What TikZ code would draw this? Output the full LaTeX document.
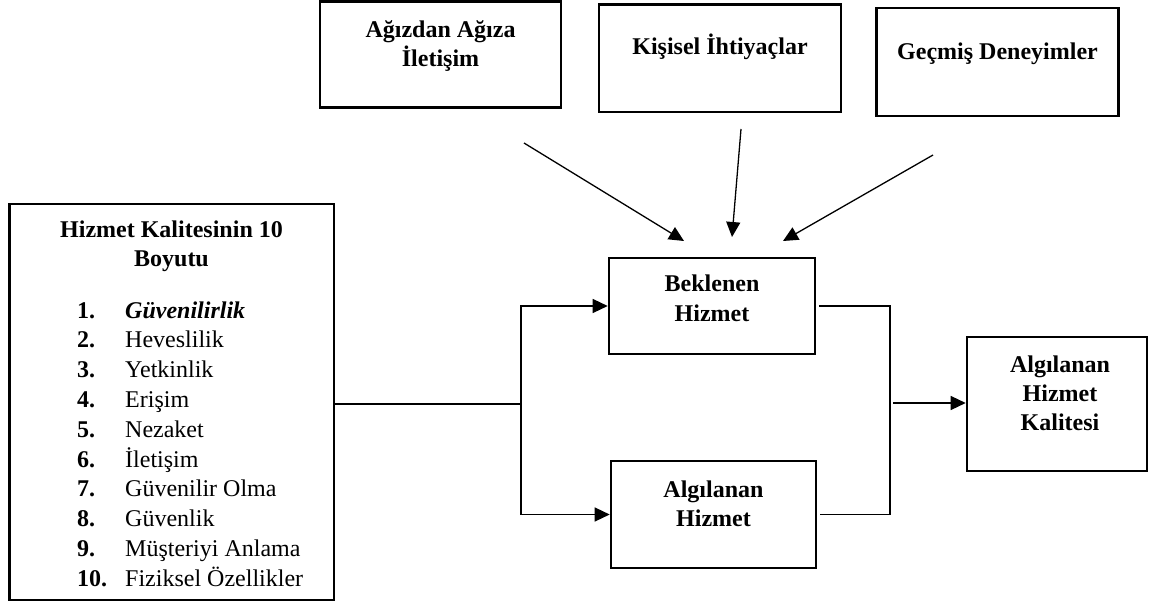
\documentclass[tikz,border=0pt]{standalone}
\usepackage{fontspec}
\setmainfont{Liberation Serif}
\usetikzlibrary{arrows.meta}
\begin{document}
\begin{tikzpicture}[x=1pt,y=-1pt,
  box/.style={draw, line width=2.6pt, rectangle, inner sep=0pt, outer sep=0pt},
  conn/.style={line width=1.3pt},
  arr/.style={-{Triangle[length=15pt,width=14pt]}},
  lbl/.style={font=\fontsize{24}{29}\selectfont\bfseries, inner sep=0pt, anchor=base},
  itemtxt/.style={font=\fontsize{24}{29}\selectfont, inner sep=0pt, anchor=base west},
  itemnum/.style={font=\fontsize{24}{29}\selectfont\bfseries, inner sep=0pt, anchor=base west}]
\useasboundingbox (0,0) rectangle (1150,609);

% top boxes
\node[box, minimum width=241pt, minimum height=106pt] (A) at (440.5,54.5) {};
\node[box, minimum width=242pt, minimum height=107.5pt] (K) at (720,58.25) {};
\node[box, minimum width=242pt, minimum height=108pt] (G) at (997.5,62) {};
\node[lbl] (At1) at (440.5,38) {Ağızdan Ağıza};
\node[lbl] (At2) at (440.5,67) {İletişim};
\node[lbl] (Kt) at (720,55) {Kişisel İhtiyaçlar};
\node[lbl] (Gt) at (997.5,60) {Geçmiş Deneyimler};

% left box
\node[box, minimum width=324.5pt, minimum height=396pt] (L) at (171.75,402) {};
\node[lbl] (Lt1) at (171.5,238) {Hizmet Kalitesinin 10};
\node[lbl] (Lt2) at (171.5,267) {Boyutu};
\foreach \t [count=\i] in {{\bfseries\itshape Güvenilirlik}, {Heveslilik}, {Yetkinlik}, {Erişim}, {Nezaket}, {İletişim}, {Güvenilir Olma}, {Güvenlik}, {Müşteriyi Anlama}, {Fiziksel Özellikler}} {
  \node[itemnum] (n\i) at (77,{318+29.8*(\i-1)}) {\i.};
  \node[itemtxt] (t\i) at (125,{318+29.8*(\i-1)}) {\t};
}

% middle boxes
\node[box, minimum width=206pt, minimum height=96pt] (B) at (712,306) {};
\node[lbl] (Bt1) at (712,292) {Beklenen};
\node[lbl] (Bt2) at (712,321) {Hizmet};
\node[box, minimum width=205pt, minimum height=107pt] (H) at (713.5,514.5) {};
\node[lbl] (Ht1) at (713.5,497) {Algılanan};
\node[lbl] (Ht2) at (713.5,526) {Hizmet};

% right box
\node[box, minimum width=180pt, minimum height=134pt] (Q) at (1057,404) {};
\node[lbl] (Qt1) at (1060,372) {Algılanan};
\node[lbl] (Qt2) at (1060,401) {Hizmet};
\node[lbl] (Qt3) at (1060,430) {Kalitesi};

% top arrows
\coordinate (a1s) at (524,143); \coordinate (a1e) at (684,241);
\coordinate (a2s) at (741,129); \coordinate (a2e) at (732,237);
\coordinate (a3s) at (933,155); \coordinate (a3e) at (783,241);
\draw[conn,arr] (a1s) -- (a1e);
\draw[conn,arr] (a2s) -- (a2e);
\draw[conn,arr] (a3s) -- (a3e);

% left connectors
\coordinate (j) at (521,404);
\draw[conn] (L.east |- j) -- (j);
\draw[conn,arr,shorten >=1.3pt] (j) |- (B.west);
\draw[conn,arr,shorten >=1.3pt] (j) |- (H.west);

% right connectors
\coordinate (r) at (890,403);
\draw[conn] ([xshift=4pt]B.east) -| (r) |- ([xshift=4pt]H.east);
\draw[conn,arr,shorten >=1.3pt] ([xshift=3pt]r) -- (Q.west |- r);
\end{tikzpicture}
\end{document}
